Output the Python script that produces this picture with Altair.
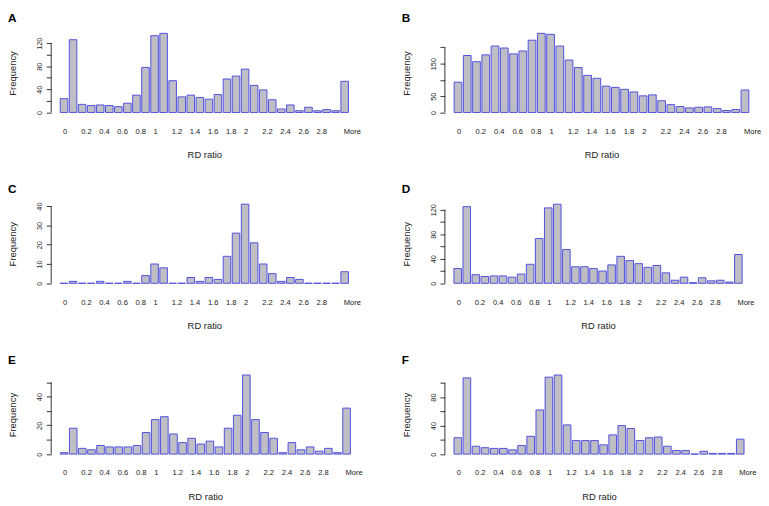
import altair as alt
import pandas as pd

bins = ["0", "0.1", "0.2", "0.3", "0.4", "0.5", "0.6", "0.7", "0.8", "0.9",
        "1", "1.1", "1.2", "1.3", "1.4", "1.5", "1.6", "1.7", "1.8", "1.9",
        "2", "2.1", "2.2", "2.3", "2.4", "2.5", "2.6", "2.7", "2.8", "2.9",
        "3", "More"]
shown_x = ["0", "0.2", "0.4", "0.6", "0.8", "1", "1.2", "1.4", "1.6", "1.8",
           "2", "2.2", "2.4", "2.6", "2.8", "More"]

freq_A = [24, 126, 14, 12, 13, 12, 10, 16, 30, 78, 133, 137, 55, 27, 30, 26, 23, 31,
          58, 63, 75, 47, 39, 22, 6, 13, 3, 9, 3, 5, 3, 54]
freq_B = [93, 175, 156, 177, 204, 198, 180, 189, 222, 243, 240, 204, 161, 138, 114, 105,
          81, 77, 71, 63, 51, 54, 36, 24, 18, 14, 16, 17, 12, 6, 9, 69]
freq_C = [0, 1, 0, 0, 1, 0, 0, 1, 0, 4, 10, 8, 0, 0, 3, 1, 3, 2, 14, 26, 41, 21, 10, 5,
          1, 3, 2, 0, 0, 0, 0, 6]
freq_D = [24, 125, 14, 11, 12, 12, 10, 15, 31, 73, 123, 129, 55, 27, 27, 24, 20, 30, 44,
          37, 32, 26, 29, 17, 5, 10, 1, 9, 4, 5, 2, 47]
freq_E = [1, 18, 4, 3, 6, 5, 5, 5, 6, 15, 24, 26, 14, 8, 11, 7, 9, 5, 18, 27, 55, 24, 15,
          11, 1, 8, 3, 5, 2, 4, 1, 32]
freq_F = [23, 107, 11, 9, 8, 8, 6, 12, 25, 62, 108, 111, 41, 19, 19, 19, 13, 27, 40, 36,
          19, 23, 24, 11, 5, 5, 0, 4, 1, 1, 1, 21]

ticks_A = [0, 20, 40, 60, 80, 100, 120]
ticks_B = [0, 50, 100, 150, 200]
ticks_C = [0, 10, 20, 30, 40]
ticks_D = [0, 20, 40, 60, 80, 100, 120]
ticks_E = [0, 10, 20, 30, 40, 50]
ticks_F = [0, 20, 40, 60, 80, 100]

labels_A = [0, 40, 80, 120]
labels_B = [0, 50, 150]
labels_C = [0, 10, 20, 30, 40]
labels_D = [0, 40, 80, 120]
labels_E = [0, 20, 40]
labels_F = [0, 40, 80]

FONT = "Liberation Sans"
AXIS_COLOR = "#333333"
H = 87


def panel(letter, values, ticks, shown_y, width):
    df = pd.DataFrame({"bin": bins, "freq": values})
    ymax = max(values)
    ydom = [-0.04 * ymax, 1.04 * ymax]
    xlab_expr = "indexof(" + str(shown_x).replace("'", '"') + ", datum.label) >= 0 ? datum.label : ''"
    ylab_expr = "indexof(" + str(shown_y) + ", datum.value) >= 0 ? datum.label : ''"
    x = alt.X(
        "bin:N", sort=bins,
        scale=alt.Scale(paddingInner=1 / 6, paddingOuter={"expr": "1.28"}),
        axis=alt.Axis(title="RD ratio", labelExpr=xlab_expr, labelAngle=0,
                      labelAlign="left", labelOffset=-1, domain=False, ticks=False,
                      labelPadding=12, titlePadding=15, labelFontSize=7.7,
                      titleFontSize=9.6, labelOverlap=False),
    )
    y = alt.Y(
        "freq:Q",
        scale=alt.Scale(domain=ydom, nice=False, zero=False),
        axis=alt.Axis(title="Frequency", values=ticks, tickCount=50, labelExpr=ylab_expr,
                      labelAngle=270, domain=False, grid=False, tickSize=5,
                      tickColor=AXIS_COLOR, labelPadding=3, titlePadding=18,
                      labelFontSize=7.5, titleFontSize=9.6, labelOverlap=False),
    )
    bars = alt.Chart(df).mark_bar(fill="#bebec4", stroke="#5050e0",
                                  strokeWidth=1).encode(x=x, y=y, y2=alt.datum(0))
    rule = alt.Chart(df.head(1)).mark_rule(color=AXIS_COLOR, strokeWidth=1).encode(
        y=alt.datum(0), y2=alt.datum(max(ticks)), x=alt.value(0)
    )
    return alt.layer(bars, rule).properties(
        width=width, height=H,
        title=alt.TitleParams(letter, anchor="start", fontSize=12, fontWeight="bold",
                              font=FONT, offset=5, color="#000000"),
    )


panels = [
    panel("A", freq_A, ticks_A, labels_A, 312),
    panel("B", freq_B, ticks_B, labels_B, 319),
    panel("C", freq_C, ticks_C, labels_C, 312),
    panel("D", freq_D, ticks_D, labels_D, 312),
    panel("E", freq_E, ticks_E, labels_E, 314),
    panel("F", freq_F, ticks_F, labels_F, 314),
]

chart = alt.concat(*panels, columns=2, spacing={"row": 24, "column": 39}, padding=0).configure_view(
    stroke=None
).configure_axis(
    labelFont=FONT, titleFont=FONT, labelColor="#222222", titleColor="#222222",
    titleFontWeight="normal"
)

chart.save("out.html", embed_options={"renderer": "svg", "actions": False})
